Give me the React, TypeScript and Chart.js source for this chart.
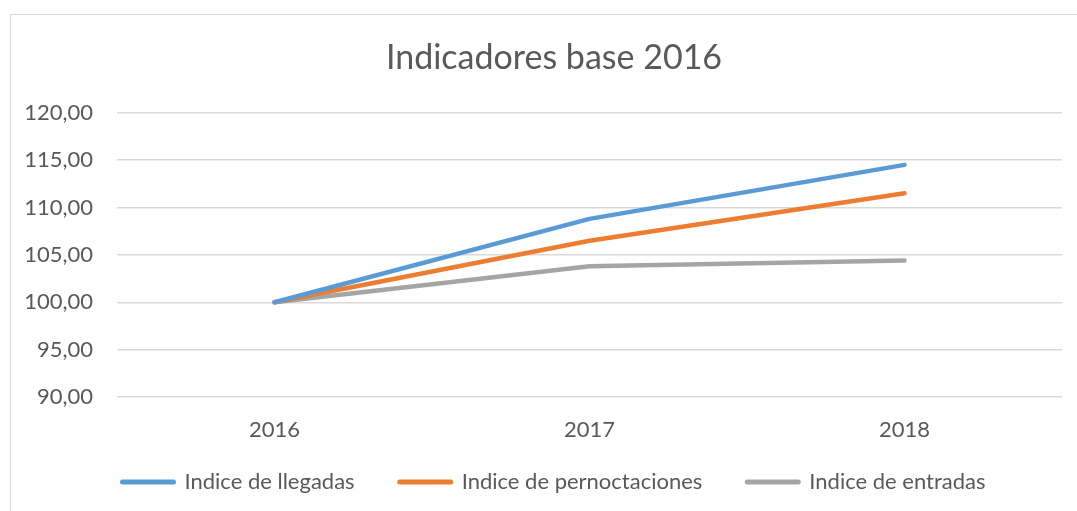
import React, { useEffect, useRef } from "react";
import { Chart, registerables } from "chart.js";

Chart.register(...registerables);

const categories = ["2016", "2017", "2018"];
const llegadas = [100, 108.8, 114.5];
const pernoctaciones = [100, 106.5, 111.5];
const entradas = [100, 103.8, 104.4];
const seriesLabels = ["Indice de llegadas", "Indice de pernoctaciones", "Indice de entradas"];
const titleText = "Indicadores base 2016";

const FONT = "Lato, 'Noto Sans', sans-serif";
const TEXT = "#595959";

const framePlugin = {
  id: "frame",
  beforeDraw(chart: any) {
    const ctx = chart.ctx;
    ctx.save();
    ctx.fillStyle = "#ffffff";
    ctx.fillRect(0, 0, chart.width, chart.height);
    ctx.strokeStyle = "#d9d9d9";
    ctx.lineWidth = 1;
    ctx.strokeRect(0.5, 0.5, chart.width - 1, chart.height - 1);
    ctx.restore();
  },
};

const noLabelClip = (s: any) => {
  s._computeLabelArea = () => undefined;
};

export default function App() {
  const ref = useRef<HTMLCanvasElement | null>(null);
  useEffect(() => {
    if (!ref.current) return;
    const mk = (label: string, data: number[], color: string) => ({
      label,
      data,
      borderColor: color,
      backgroundColor: color,
      borderWidth: 4.5,
      borderCapStyle: "round" as const,
      borderJoinStyle: "round" as const,
      pointRadius: 0,
      pointStyle: "line" as const,
      tension: 0,
    });
    const defaultLabels = (Chart.defaults as any).plugins.legend.labels.generateLabels;
    const chart = new Chart(ref.current, {
      type: "line",
      data: {
        labels: categories,
        datasets: [
          mk(seriesLabels[0], llegadas, "#5B9BD5"),
          mk(seriesLabels[1], pernoctaciones, "#ED7D31"),
          mk(seriesLabels[2], entradas, "#A5A5A5"),
        ],
      },
      options: {
        animation: false,
        responsive: false,
        maintainAspectRatio: false,
        layout: { padding: { left: 36, right: 36, top: 0, bottom: 21 } },
        plugins: {
          tooltip: { enabled: false },
          title: {
            display: true,
            text: titleText,
            color: TEXT,
            font: { family: FONT, size: 34, weight: "normal" },
            padding: { top: 24, bottom: 34 },
          },
          legend: {
            position: "bottom",
            labels: {
              usePointStyle: true,
              pointStyleWidth: 51,
              boxHeight: 4,
              padding: 45,
              color: TEXT,
              font: { family: FONT, size: 22 },
              generateLabels: (c: any) =>
                defaultLabels(c).map((l: any) => ({ ...l, lineCap: "round", lineWidth: 5 })),
            },
          },
        },
        scales: {
          x: {
            offset: true,
            afterFit: (s: any) => { s.height = 29; noLabelClip(s); },
            grid: { display: false, drawTicks: false },
            border: { display: false },
            ticks: { color: TEXT, font: { family: FONT, size: 22 }, padding: 20 },
          },
          y: {
            min: 90,
            max: 120,
            afterFit: (s: any) => { s.width = 71; noLabelClip(s); },
            border: { display: false },
            grid: { color: "#d9d9d9", lineWidth: 1.5, drawTicks: false },
            ticks: {
              stepSize: 5,
              padding: 24,
              color: TEXT,
              font: { family: FONT, size: 22 },
              callback: (v: any) => Number(v).toFixed(2).replace(".", ","),
            },
          },
        },
      } as any,
      plugins: [framePlugin],
    });
    return () => chart.destroy();
  }, []);
  return (
    <div style={{ position: "fixed", left: 0, top: 0, width: 1077, height: 511, overflow: "hidden", background: "#fff" }}>
      <canvas ref={ref} width={1088} height={510} style={{ position: "absolute", left: 10, top: 14, width: 1088, height: 510 }} />
    </div>
  );
}
